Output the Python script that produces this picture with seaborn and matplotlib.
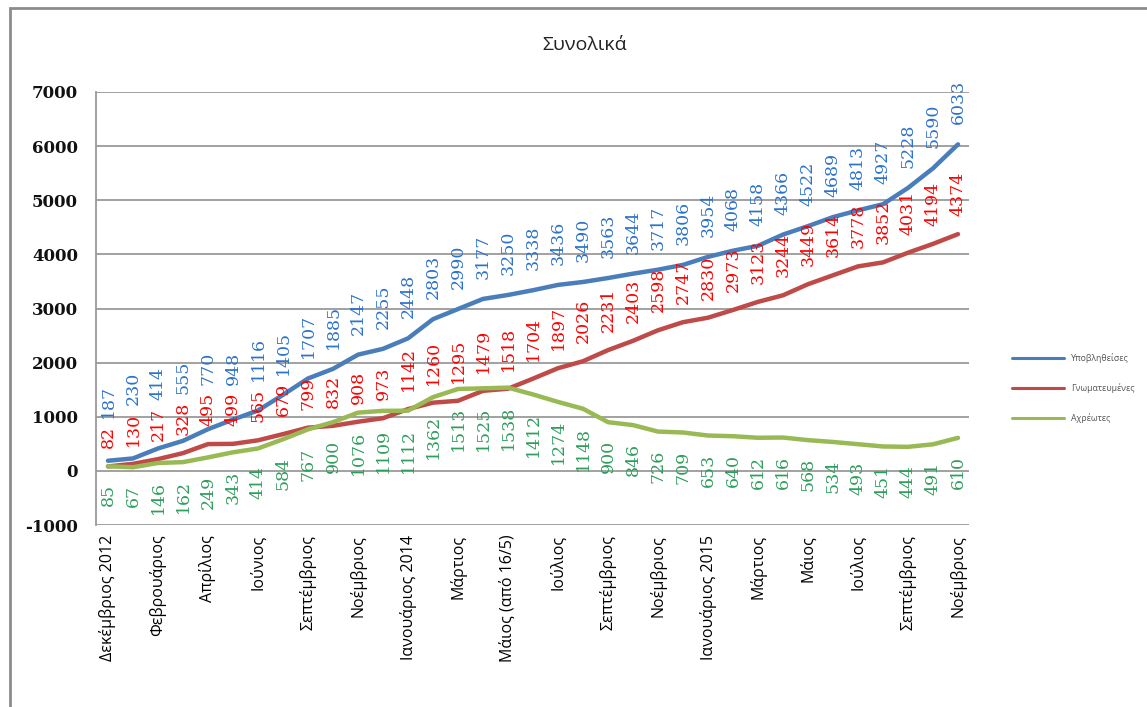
import pandas as pd
import numpy as np
import matplotlib
matplotlib.use('Agg')
import matplotlib.pyplot as plt
from matplotlib.patches import Rectangle
import seaborn as sns

# -- 1. data --
months = ['Δεκέμβριος 2012', 'Φεβρουάριος', 'Απρίλιος', 'Ιούνιος', 'Σεπτέμβριος',
          'Νοέμβριος', 'Ιανουάριος 2014', 'Μάρτιος', 'Μάιος (από 16/5)', 'Ιούλιος',
          'Σεπτέμβριος', 'Νοέμβριος', 'Ιανουάριος 2015', 'Μάρτιος', 'Μάιος',
          'Ιούλιος', 'Σεπτέμβριος', 'Νοέμβριος']

submitted = [187, 230, 414, 555, 770, 948, 1116, 1405, 1707, 1885, 2147, 2255, 2448,
             2803, 2990, 3177, 3250, 3338, 3436, 3490, 3563, 3644, 3717, 3806,
             3954, 4068, 4158, 4366, 4522, 4689, 4813, 4927, 5228, 5590, 6033]
opined = [82, 130, 217, 328, 495, 499, 565, 679, 799, 832, 908, 973, 1142,
          1260, 1295, 1479, 1518, 1704, 1897, 2026, 2231, 2403, 2598, 2747,
          2830, 2973, 3123, 3244, 3449, 3614, 3778, 3852, 4031, 4194, 4374]
unassigned = [85, 67, 146, 162, 249, 343, 414, 584, 767, 900, 1076, 1109, 1112,
              1362, 1513, 1525, 1538, 1412, 1274, 1148, 900, 846, 726, 709,
              653, 640, 612, 616, 568, 534, 493, 451, 444, 491, 610]

names = ['Υποβληθείσες', 'Γνωματευμένες', 'Αχρέωτες']
line_colours = {'Υποβληθείσες': '#4A7EBB', 'Γνωματευμένες': '#BE4B48', 'Αχρέωτες': '#98B954'}
label_colours = {'Υποβληθείσες': '#2B72CC', 'Γνωματευμένες': '#FF0000', 'Αχρέωτες': '#2E9E5C'}

# long form df for seaborn
n = len(submitted)
df = pd.DataFrame({
    'idx': list(range(n)) * 3,
    'value': submitted + opined + unassigned,
    'series': [names[0]] * n + [names[1]] * n + [names[2]] * n,
})

# -- 2. figure --
sns.set_style('white')
plt.rcParams['axes.unicode_minus'] = False
DPI = 100
fig = plt.figure(figsize=(11.47, 7.07), dpi=DPI)
ax = fig.add_axes([96 / 1147, 1 - 525 / 707, 873 / 1147, 433 / 707])

sns.lineplot(data=df, x='idx', y='value', hue='series', hue_order=names,
             palette=line_colours, linewidth=3.2, ax=ax)

ax.set_xlim(-0.48, 34.44)
ax.set_ylim(-1000, 7000)
ax.set_yticks(range(-1000, 7001, 1000))
ax.yaxis.grid(True, color='#9a9a9a', linewidth=1.3)
ax.set_axisbelow(True)
for s in ['top', 'right', 'bottom']:
    ax.spines[s].set_visible(False)
ax.spines['left'].set_color('#9a9a9a')
ax.spines['left'].set_linewidth(1.3)

ax.set_xticks(range(0, n, 2))
ax.set_xticklabels(months, rotation=90, fontsize=11.5, family='Open Sans', color='#000000')
ax.tick_params(axis='x', length=0, pad=7)
ax.tick_params(axis='y', length=0, pad=13)
for t in ax.get_yticklabels():
    t.set_family('DejaVu Serif')
    t.set_fontweight('bold')
    t.set_fontsize(12)
    t.set_color('#111111')
ax.set_xlabel('')
ax.set_ylabel('')

# -- 3. data labels --
fs = 12.5
digit_px = 0.636 * fs * DPI / 72
off_px = 18
to_pt = 72 / DPI

def ypx(v):
    return ax.transData.transform((0, v))[1]

for i in range(n):
    # red above its point
    ax.annotate(str(opined[i]), (i, opined[i]), xytext=(0, off_px * to_pt),
                textcoords='offset points', rotation=90, ha='center', va='bottom',
                fontsize=fs, family='DejaVu Serif', color=label_colours[names[1]])
    # blue above, pushed up to clear the red label
    red_top = ypx(opined[i]) + off_px + len(str(opined[i])) * digit_px
    b_off = max(off_px + 2, red_top + 8 - ypx(submitted[i]))
    ax.annotate(str(submitted[i]), (i, submitted[i]), xytext=(0, b_off * to_pt),
                textcoords='offset points', rotation=90, ha='center', va='bottom',
                fontsize=fs, family='DejaVu Serif', color=label_colours[names[0]])
    # green below
    ax.annotate(str(unassigned[i]), (i, unassigned[i]), xytext=(0, -off_px * to_pt),
                textcoords='offset points', rotation=90, ha='center', va='top',
                fontsize=fs, family='DejaVu Serif', color=label_colours[names[2]])

# -- 4. legend, title, frame --
sns.move_legend(ax, 'upper left', bbox_to_anchor=(1.04, 0.415), frameon=False,
                title=None, fontsize=6.3, handlelength=6.0, labelspacing=2.3,
                handletextpad=0.8)
for t in ax.get_legend().get_texts():
    t.set_color('#555555')
    t.set_family('Open Sans')
for h in ax.get_legend().legend_handles:
    h.set_linewidth(2.2)

fig.text(585 / 1147, 1 - 45 / 707, 'Συνολικά', ha='center', va='center',
         fontsize=14, family='Open Sans', color='#222222')

fig.patches.append(Rectangle((10 / 1147, -0.1), 1.2, 1.1 - 8 / 707, transform=fig.transFigure,
                             fill=False, edgecolor='#8c8c8c', linewidth=2))

plt.savefig('out.png', dpi=DPI)
